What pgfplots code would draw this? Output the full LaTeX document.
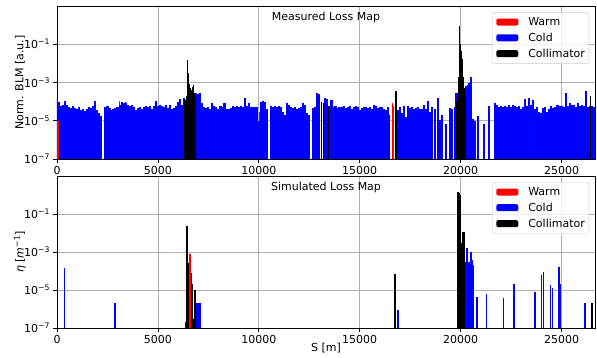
\documentclass[border=0pt]{standalone}
\usepackage{fontspec}
\setmainfont{DejaVu Sans}[ItalicFont={DejaVu Sans Oblique}]
\usepackage{pgfplots}
\pgfplotsset{compat=1.18}
\definecolor{gridc}{HTML}{B0B0B0}
\definecolor{legc}{HTML}{CCCCCC}
\newcommand{\fs}{\fontsize{11}{13}\selectfont}
\begin{document}
\begin{tikzpicture}
\begin{axis}[
  width=538pt, height=153pt, scale only axis,
  xmin=0, xmax=26659, ymode=log, ymin=1e-7, ymax=10, log origin=infty,
  xtick={0,5000,10000,15000,20000,25000},
  xticklabels={0,5000,10000,15000,20000,25000}, scaled x ticks=false,
  ytick={1e-7,1e-5,1e-3,1e-1},
  yticklabels={10\textsuperscript{−7},10\textsuperscript{−5},10\textsuperscript{−3},10\textsuperscript{−1}},
  yminorticks=false,
  grid=major, major grid style={gridc, line width=0.8pt},
  axis line style={line width=0.8pt},
  tick style={black, line width=0.8pt}, major tick length=3.5pt, tick align=outside,
  xtick pos=bottom, ytick pos=left,
  tick label style={font=\fs},
  legend image code/.code={\path (-2pt,0pt) (30pt,0pt); \fill[#1, fill opacity=1] (0pt,-3.5pt) rectangle (22pt,3.5pt);},
  legend style={at={(0.989,0.96)}, anchor=north east, draw=legc, rounded corners=2pt,
    fill=white, fill opacity=0.8, text opacity=1, font=\fs, inner xsep=2pt, inner ysep=3pt, row sep=2pt},
  legend cell align=left,
  ylabel={Norm. BLM [a.u.]},
  every axis y label/.style={at={(axis description cs:0,0.5)}, rotate=90, anchor=center, yshift=37pt, font=\fs},
]
\addlegendimage{fill=red, draw=none}\addlegendentry{Warm}
\addlegendimage{fill=blue, draw=none}\addlegendentry{Cold}
\addlegendimage{fill=black, draw=none}\addlegendentry{Collimator}
\addplot[draw=red, ycomb, line width=0.9pt, forget plot] coordinates {(3100,1.1e-4)(10020,3e-5)};
\addplot[draw=blue, ycomb, line width=2.1pt, forget plot] coordinates {
(0,1.8e-4)(100,1e-4)(200,6e-5)(300,7e-5)(400,1.1e-4)(500,7e-5)(600,5e-5)(700,4.5e-5)(800,6e-5)(900,4.5e-5)
(1000,4e-5)(1100,5.5e-5)(1200,3.5e-5)(1300,4.2e-5)(1400,3.3e-5)(1500,4e-5)(1600,5e-5)(1700,4.5e-5)(1800,6e-5)(1900,1.1e-4)
(2000,3.5e-5)(2100,2.5e-5)(2200,1.8e-5)(2400,5.5e-5)(2500,6e-5)(2600,4.5e-5)(2700,3.5e-5)(2800,4e-5)(2900,4.5e-5)
(3000,5e-5)(3100,7e-5)(3200,1e-4)(3300,8e-5)(3400,9e-5)(3500,7e-5)(3600,6e-5)(3700,6.5e-5)(3800,5e-5)(3900,3.5e-5)
(4000,4.5e-5)(4100,5e-5)(4200,4e-5)(4300,5e-5)(4400,6e-5)(4500,5.5e-5)(4600,6e-5)(4700,4e-5)(4800,6e-5)(4900,1.1e-4)
(5000,6e-5)(5100,7e-5)(5200,6e-5)(5300,5e-5)(5400,7e-5)(5500,4.5e-5)(5600,6.5e-5)(5700,4e-5)(5800,4.5e-5)(5900,6e-5)
(6000,1e-4)(6100,1.3e-4)(6200,7e-5)(6300,1.6e-4)
(6900,2.8e-4)(7000,2.5e-4)(7100,2.9e-4)(7200,8.5e-5)(7300,5e-5)(7400,4.5e-5)(7500,5e-5)(7600,4e-5)(7700,9e-5)(7800,6e-5)(7900,5e-5)
(8000,4e-5)(8100,6e-5)(8200,5e-5)(8300,8e-5)(8400,4e-5)(8500,4e-5)(8600,4.5e-5)(8700,6e-5)(8800,5e-5)(8900,6e-5)
(9000,5.5e-5)(9100,6e-5)(9200,5e-5)(9300,1.6e-4)(9400,6e-5)(9500,9e-5)(9600,5e-5)(9700,5.5e-5)(9800,5.5e-5)(9900,5e-5)
(10000,1e-5)(10100,1e-4)(10200,1.1e-4)(10300,1e-4)(10400,4e-5)(10600,6e-5)(10700,5e-5)(10800,6e-5)(10900,5.5e-5)
(11000,6e-5)(11100,5e-5)(11200,3e-5)(11300,2e-5)(11400,9e-5)(11500,7e-5)(11600,5e-5)(11700,4.5e-5)(11800,5e-5)(11900,4e-5)
(12000,4.5e-5)(12100,5e-5)(12200,9e-5)(12300,7e-5)(12400,2.5e-5)(12500,2e-5)(12700,4.5e-5)(12800,5e-5)(12900,2.9e-4)(13000,2.5e-4)
(13300,1.6e-4)(13400,1.4e-4)(13500,6e-5)(13600,1.2e-4)(13700,5e-5)(13800,6e-5)(13900,4.5e-5)
(14000,5.5e-5)(14100,5e-5)(14200,6e-5)(14300,4.5e-5)(14400,5e-5)(14500,6e-5)(14600,4e-5)(14700,5.5e-5)(14800,6e-5)(14900,5e-5)
(15000,3.5e-5)(15100,4.5e-5)(15200,5e-5)(15300,5e-5)(15400,4.5e-5)(15500,5e-5)(15600,4e-5)(15700,7e-5)(15800,6e-5)(15900,4.5e-5)
(16000,5e-5)(16100,5.5e-5)(16200,4e-5)(16300,3.5e-5)(16400,5e-5)
(16900,3.5e-5)(17000,5e-5)(17100,2.5e-5)(17200,6e-5)(17300,1.5e-5)(17400,6e-5)(17500,4.5e-5)(17600,5e-5)(17700,4e-5)(17800,4.5e-5)(17900,5e-5)
(18000,4e-5)(18100,4e-5)(18200,6.5e-5)(18300,4e-5)(18400,1.1e-4)(18500,3e-5)(18600,5e-5)(18750,4e-5)(18880,1.6e-4)
(19000,1.1e-5)(19090,2e-5)(19290,7e-6)(19460,4.9e-5)(19590,4e-5)(19700,5e-5)(19780,3e-4)(19850,3e-4)
(20280,6.5e-4)(20360,7e-4)(20420,1e-3)(20530,2e-3)(20610,1.3e-5)(20700,1e-5)(20860,1.8e-5)(21140,7e-6)(21420,6e-5)
(21700,8e-5)(21800,7e-5)(21900,5e-5)
(22000,6e-5)(22100,5.5e-5)(22200,6e-5)(22300,5e-5)(22400,6.5e-5)(22500,5.5e-5)(22600,7e-5)(22700,6e-5)(22800,5e-5)(22900,6e-5)
(23000,4e-5)(23100,5.5e-5)(23200,1.3e-4)(23300,6e-5)(23400,1.6e-4)(23500,7e-5)(23600,1.2e-4)(23700,4e-5)(23800,5e-5)(23900,3e-5)
(24000,2.5e-5)(24100,4.5e-5)(24200,5e-5)(24300,3e-5)(24400,4e-5)(24500,6e-5)(24600,4.5e-5)(24700,5.5e-5)(24800,7e-5)(24900,6e-5)
(25000,6e-5)(25100,5e-5)(25200,2.9e-4)(25300,6e-5)(25400,8e-5)(25500,7e-5)(25600,7e-5)(25700,5e-5)(25800,8e-5)(25900,6e-5)
(26000,7e-5)(26100,6e-5)(26200,3.5e-4)(26300,5e-5)(26400,6e-5)(26500,6e-5)(26600,5e-5)
};
\addplot[draw=red, ycomb, line width=1.3pt, forget plot] coordinates {(50,1e-5)(16620,9e-5)(16680,6e-5)};
\addplot[draw=black, ycomb, line width=1.3pt, forget plot] coordinates {
(120,9e-5)(3200,1e-4)(3400,1e-4)
(6350,1.2e-4)(6400,2e-4)(6450,1.5e-2)(6500,3e-3)(6550,8e-4)(6600,5e-4)(6650,4e-4)(6700,6e-4)(6750,7e-4)(6800,3e-4)(6850,1.5e-4)
(13100,1e-4)(13200,8e-5)(13450,5e-5)(16470,2e-5)(16800,3.5e-4)
(19780,1e-4)(19830,3e-4)(19880,2e-3)(19930,5e-2)(19960,0.9)(20000,0.1)(20050,4.5e-2)(20100,1.6e-2)(20150,2e-3)(20200,5e-4)(20250,2e-4)
(23200,1.4e-5)(23420,1.7e-5)(26300,4e-5)(26450,1.9e-4)
};
\node[font=\fs, anchor=base, yshift=-14pt] at (rel axis cs:0.5,1) {Measured Loss Map};
\end{axis}
\begin{axis}[
  at={(0,-169pt)},
  width=538pt, height=152pt, scale only axis,
  xmin=0, xmax=26659, ymode=log, ymin=1e-7, ymax=10, log origin=infty,
  xtick={0,5000,10000,15000,20000,25000},
  xticklabels={0,5000,10000,15000,20000,25000}, scaled x ticks=false,
  ytick={1e-7,1e-5,1e-3,1e-1},
  yticklabels={10\textsuperscript{−7},10\textsuperscript{−5},10\textsuperscript{−3},10\textsuperscript{−1}},
  yminorticks=false,
  grid=major, major grid style={gridc, line width=0.8pt},
  axis line style={line width=0.8pt},
  tick style={black, line width=0.8pt}, major tick length=3.5pt, tick align=outside,
  xtick pos=bottom, ytick pos=left,
  tick label style={font=\fs},
  legend image code/.code={\path (-2pt,0pt) (30pt,0pt); \fill[#1, fill opacity=1] (0pt,-3.5pt) rectangle (22pt,3.5pt);},
  legend style={at={(0.989,0.96)}, anchor=north east, draw=legc, rounded corners=2pt,
    fill=white, fill opacity=0.8, text opacity=1, font=\fs, inner xsep=2pt, inner ysep=3pt, row sep=2pt},
  legend cell align=left,
  ylabel={\textit{η} [\textit{m}\textsuperscript{−1}]},
  every axis y label/.style={at={(axis description cs:0,0.5)}, rotate=90, anchor=center, yshift=37pt, font=\fs},
  xlabel={S [m]},
  every axis x label/.style={at={(axis description cs:0.5,0)}, anchor=center, yshift=-20pt, font=\fs},
]
\addlegendimage{fill=red, draw=none}\addlegendentry{Warm}
\addlegendimage{fill=blue, draw=none}\addlegendentry{Cold}
\addlegendimage{fill=black, draw=none}\addlegendentry{Collimator}
\addplot[draw=blue, ycomb, line width=1.6pt, forget plot] coordinates {
(380,1.4e-4)(2870,2e-6)(6400,2e-7)(6950,2e-6)(7000,2e-6)(7080,2.2e-6)(16910,9e-7)
(20230,3e-4)(20280,2.7e-4)(20330,1.7e-3)(20380,2.7e-4)(20430,3e-4)(20480,2.5e-4)(20520,1e-3)(20560,4e-4)(20600,2e-4)
(20820,4.2e-6)(21280,6e-6)(22130,4e-6)(22650,2e-5)(23690,7.8e-6)(24000,6e-5)(24110,8.5e-5)(24450,1.8e-5)(24550,1.3e-5)
(24880,1.6e-4)(24920,2e-5)(26150,2e-6)
};
\addplot[draw=black, ycomb, line width=1.6pt, forget plot] coordinates {
(6450,2.4e-2)(6500,2.6e-4)(6650,7.6e-5)(6700,2.2e-5)(6750,3e-7)(6850,1e-5)(16760,7e-5)
(19870,1.5)(19920,1.3)(19970,1.0)(20050,2.9e-3)(20110,1.1e-2)(20160,1.1e-2)(20200,1e-2)(26500,2.2e-6)
};
\addplot[draw=red, ycomb, line width=1.6pt, forget plot] coordinates {(6580,8e-4)};
\node[font=\fs, anchor=base, yshift=-14pt] at (rel axis cs:0.5,1) {Simulated Loss Map};
\end{axis}
\pgfresetboundingbox
\path[use as bounding box] (-57pt,-198pt) rectangle (540pt,159pt);
\end{tikzpicture}
\end{document}
